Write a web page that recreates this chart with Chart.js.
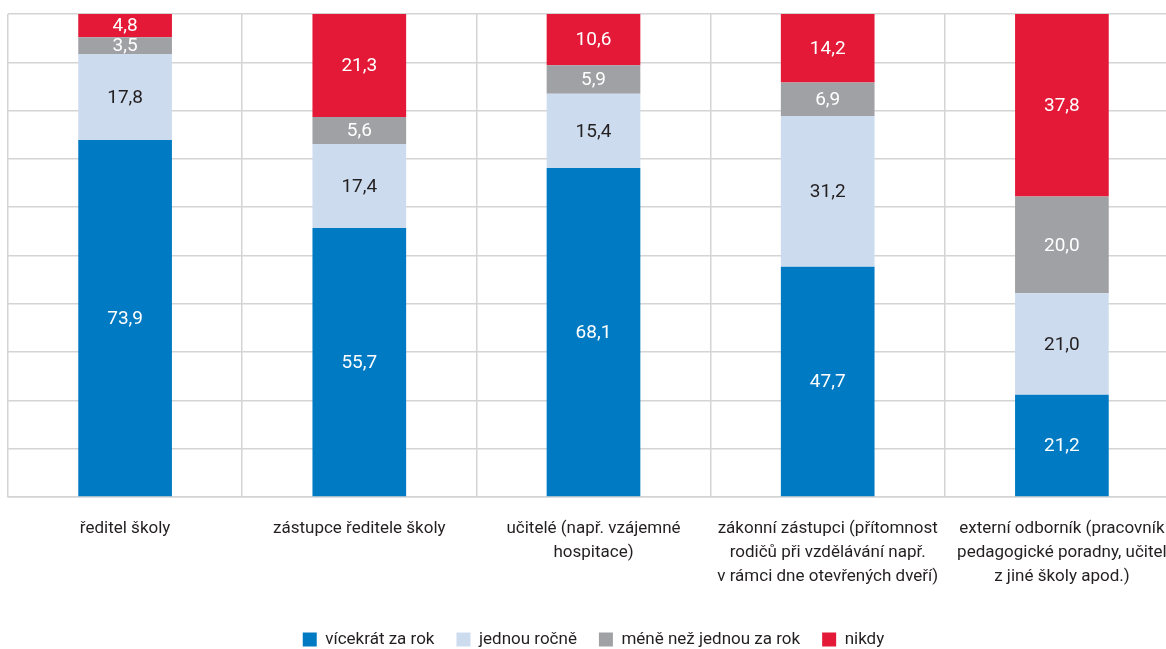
<!DOCTYPE html>
<html>
<head>
<meta charset="utf-8">
<script src="https://cdn.jsdelivr.net/npm/chart.js@4"></script>
<style>
  html, body { margin: 0; padding: 0; overflow: hidden; background: #fff; }
  #wrap { width: 1166px; height: 649px; overflow: hidden; }
</style>
</head>
<body>
<div id="wrap"><canvas id="chart" width="1188" height="649"></canvas></div>
<script>
const categories = [
    ["ředitel školy"],
    ["zástupce ředitele školy"],
    ["učitelé (např. vzájemné", "hospitace)"],
    ["zákonní zástupci (přítomnost", "rodičů při vzdělávání např.", "v rámci dne otevřených dveří)"],
    ["externí odborník (pracovník", "pedagogické poradny, učitel", "z jiné školy apod.)"],
]
const seriesNames = ["vícekrát za rok", "jednou ročně", "méně než jednou za rok", "nikdy"]
const vicekrat = [73.9, 55.7, 68.1, 47.7, 21.2]
const jednou = [17.8, 17.4, 15.4, 31.2, 21.0]
const mene = [3.5, 5.6, 5.9, 6.9, 20.0]
const nikdy = [4.8, 21.3, 10.6, 14.2, 37.8]

const colors = ["#007ac2", "#ccdcee", "#a0a1a5", "#e31937"]
const labelColors = ["#ffffff", "#231f20", "#ffffff", "#ffffff"]
const font = "Roboto, 'Noto Sans', sans-serif"

// draws the value in the middle of every stacked segment
const segmentLabels = {
    id: "segmentLabels",
    afterDatasetsDraw(chart) {
        const ctx = chart.ctx
        ctx.save()
        ctx.font = "19px " + font
        ctx.textAlign = "center"
        ctx.textBaseline = "middle"
        chart.data.datasets.forEach((ds, i) => {
            const meta = chart.getDatasetMeta(i)
            meta.data.forEach((bar, j) => {
                const v = ds.data[j]
                ctx.fillStyle = labelColors[i]
                ctx.fillText(v.toFixed(1).replace(".", ","), bar.x, (bar.y + bar.base) / 2 + 1)
            })
        })
        ctx.restore()
    },
}

const seriesData = [vicekrat, jednou, mene, nikdy]

new Chart(document.getElementById("chart"), {
    type: "bar",
    data: {
        labels: categories,
        datasets: seriesNames.map((name, i) => ({
            label: name,
            data: seriesData[i],
            backgroundColor: colors[i],
            borderWidth: 0,
            barPercentage: 0.4,
            categoryPercentage: 1,
        })),
    },
    options: {
        responsive: false,
        animation: false,
        layout: {
            padding: { left: 8, right: 9, top: 14, bottom: 0 },
        },
        plugins: {
            legend: {
                position: "bottom",
                maxHeight: 40,
                labels: {
                    font: { family: font, size: 17 },
                    color: "#231f20",
                    boxWidth: 14,
                    boxHeight: 14,
                    padding: 22,
                },
            },
            tooltip: { enabled: false },
        },
        scales: {
            x: {
                stacked: true,
                grid: {
                    color: "#d4d4d4",
                    lineWidth: 1.5,
                    drawTicks: false,
                },
                border: { color: "#d4d4d4", width: 1.5 },
                ticks: {
                    font: { family: font, size: 17, lineHeight: 1.41 },
                    color: "#231f20",
                    padding: 20,
                    maxRotation: 0,
                    autoSkip: false,
                },
            },
            y: {
                stacked: true,
                min: 0,
                max: 100,
                grid: {
                    color: "#d4d4d4",
                    lineWidth: 1.5,
                    drawTicks: false,
                },
                border: { display: false },
                ticks: { display: false, stepSize: 10 },
            },
        },
    },
    plugins: [segmentLabels],
})
</script>
</body>
</html>
